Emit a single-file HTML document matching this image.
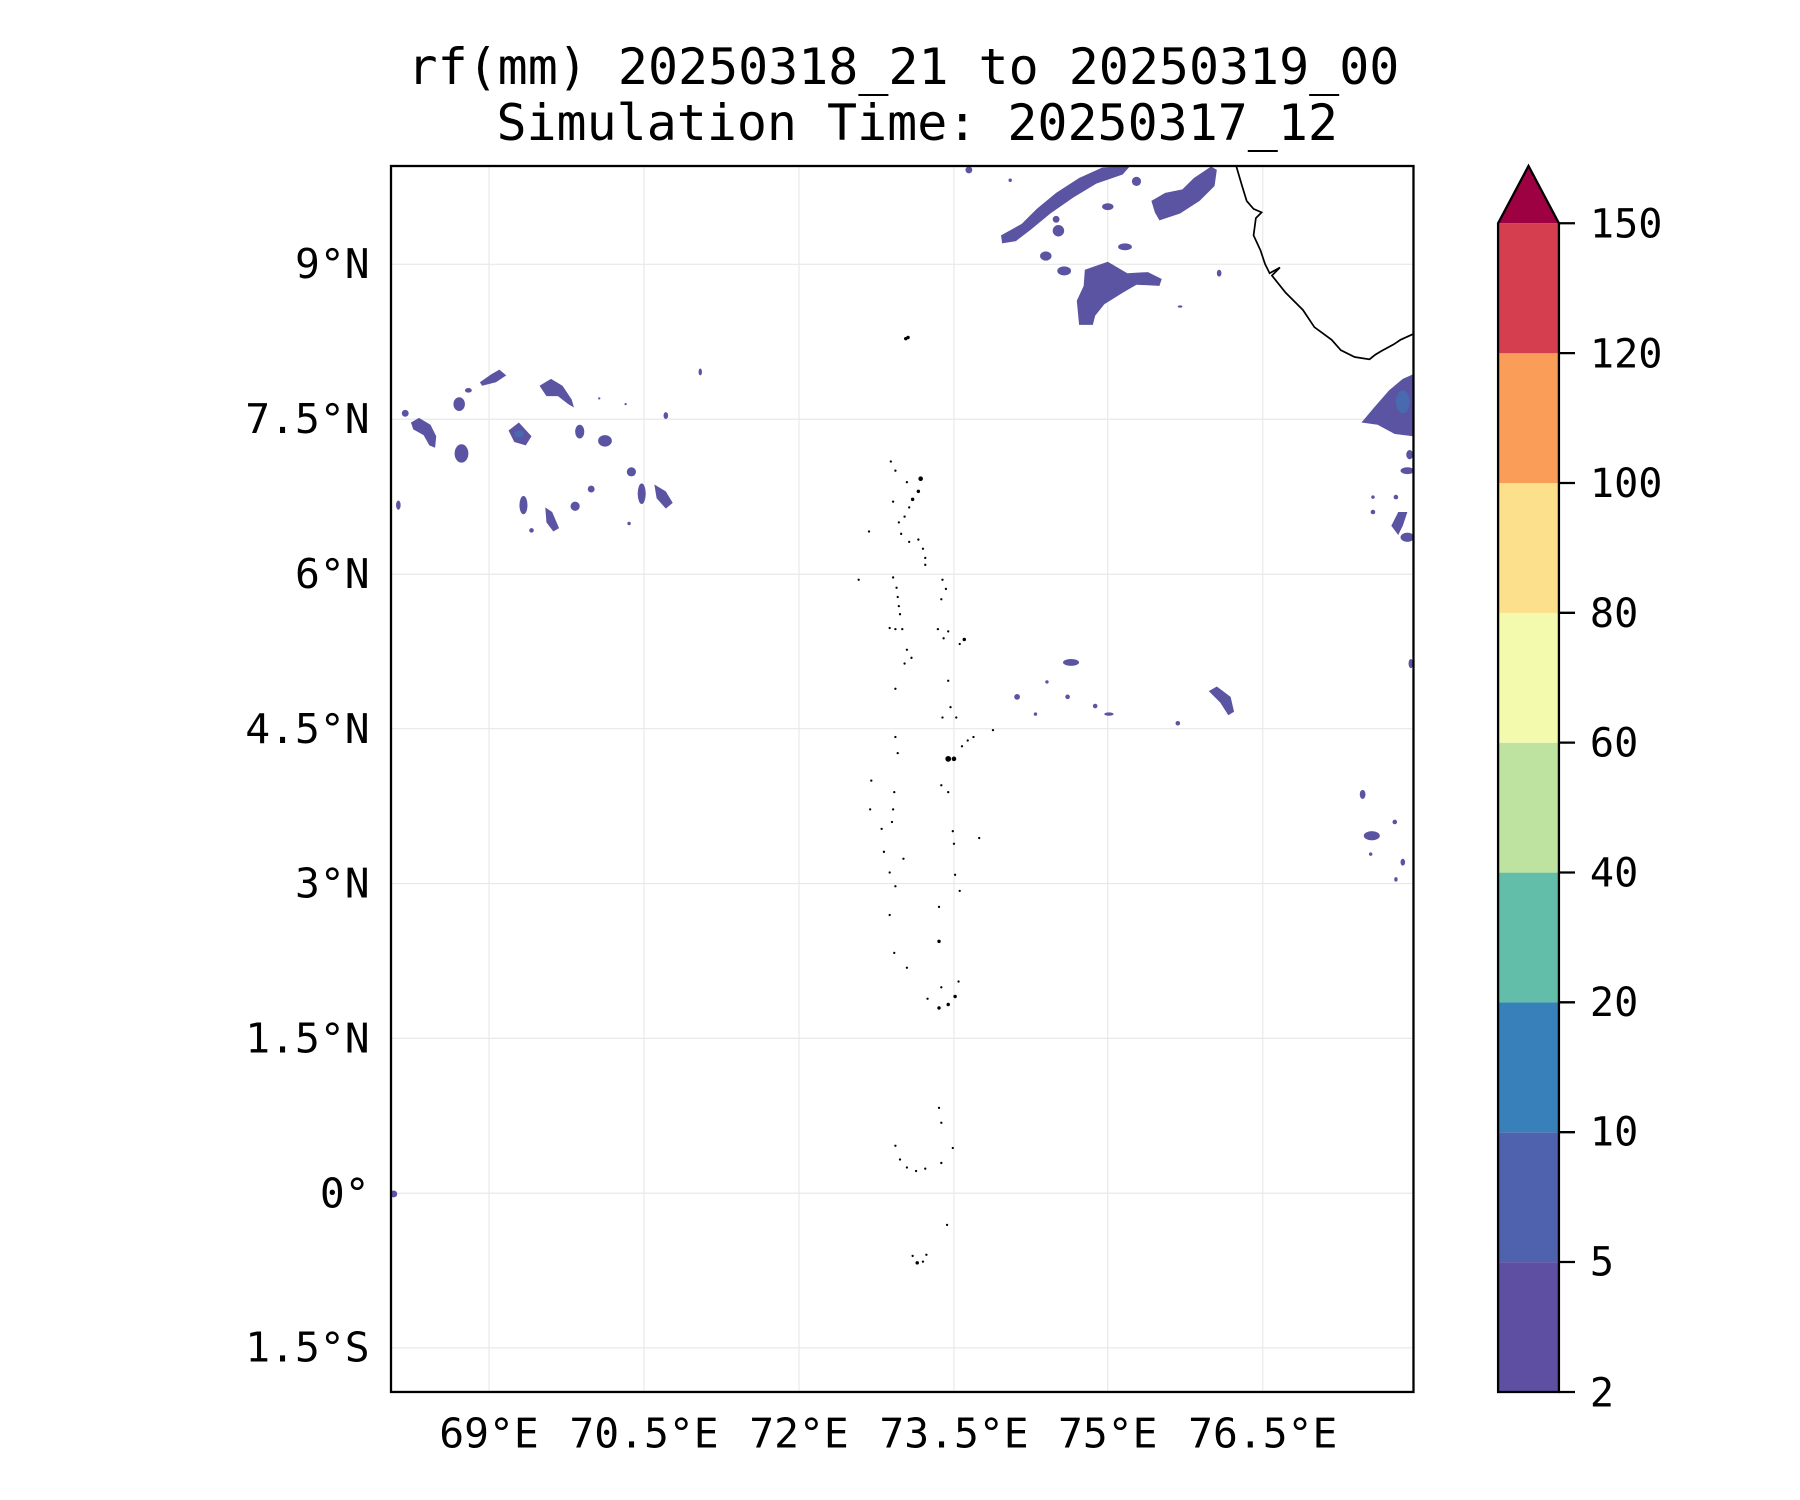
<!DOCTYPE html>
<html><head><meta charset="utf-8"><style>
html,body{margin:0;padding:0;background:#fff;}
svg{display:block}
text{font-family:"DejaVu Sans Mono","Liberation Mono",monospace;fill:#000}
</style></head><body>
<svg width="1800" height="1500" viewBox="0 0 1568 1306.6" preserveAspectRatio="none" xmlns="http://www.w3.org/2000/svg">
<rect width="1568" height="1306.6" fill="#fff"/>
<text x="787" y="73" font-size="43.5" text-anchor="middle">rf(mm) 20250318_21 to 20250319_00</text>
<text x="799" y="122" font-size="43.5" text-anchor="middle">Simulation Time: 20250317_12</text>
<defs><clipPath id="ax"><rect x="340.6" y="144.6" width="890.7" height="1067.9"/></clipPath></defs>
<g stroke="#e8e8e8" stroke-width="1">
<line x1="426" y1="144.6" x2="426" y2="1212.5"/><line x1="561" y1="144.6" x2="561" y2="1212.5"/>
<line x1="696" y1="144.6" x2="696" y2="1212.5"/><line x1="831" y1="144.6" x2="831" y2="1212.5"/>
<line x1="965" y1="144.6" x2="965" y2="1212.5"/><line x1="1100" y1="144.6" x2="1100" y2="1212.5"/>
<line x1="340.6" y1="230.2" x2="1231.3" y2="230.2"/><line x1="340.6" y1="365.2" x2="1231.3" y2="365.2"/>
<line x1="340.6" y1="500.2" x2="1231.3" y2="500.2"/><line x1="340.6" y1="634.7" x2="1231.3" y2="634.7"/>
<line x1="340.6" y1="769.6" x2="1231.3" y2="769.6"/><line x1="340.6" y1="904.5" x2="1231.3" y2="904.5"/>
<line x1="340.6" y1="1039.4" x2="1231.3" y2="1039.4"/><line x1="340.6" y1="1174" x2="1231.3" y2="1174"/>
</g>
<g clip-path="url(#ax)" fill="#5b54a3">
<polygon points="872,205 890,195 903,182 920,168 940,155 960,146 985,144 978,152 955,160 935,172 915,186 898,200 885,210 873,212"/>
<polygon points="1003,175 1015,168 1030,165 1040,155 1055,145 1060,148 1058,162 1045,175 1028,186 1010,192 1006,185"/>
<polygon points="945,235 965,228 982,238 1000,237 1012,243 1010,249 990,248 978,255 962,265 954,275 952,283 940,283 938,262 944,249"/>
<ellipse cx="922" cy="201" rx="5" ry="5"/><ellipse cx="911" cy="223" rx="5" ry="4"/><ellipse cx="965" cy="180" rx="5" ry="3"/>
<ellipse cx="980" cy="215" rx="6" ry="3"/><ellipse cx="990" cy="158" rx="4" ry="4"/><ellipse cx="1062" cy="238" rx="2" ry="3"/>
<ellipse cx="1028" cy="267" rx="2" ry="1"/><ellipse cx="920" cy="191" rx="3" ry="3"/><ellipse cx="927" cy="236" rx="6" ry="4"/>
<ellipse cx="844" cy="148" rx="3" ry="3"/><ellipse cx="880" cy="157" rx="1.5" ry="1.5"/>
<polygon points="358,368 365,364 375,370 380,380 379,390 374,388 369,379 360,374"/>
<ellipse cx="353" cy="360" rx="3" ry="3"/><ellipse cx="400" cy="352" rx="5" ry="6"/><ellipse cx="402" cy="395" rx="6" ry="8"/>
<polygon points="418,333 428,326 435,322 441,327 432,333 420,336"/><ellipse cx="408" cy="340" rx="3" ry="2"/>
<polygon points="443,375 452,368 463,380 458,388 448,385"/>
<polygon points="470,336 480,330 490,336 498,348 500,355 495,352 486,345 476,345"/>
<ellipse cx="505" cy="376" rx="4" ry="6"/><ellipse cx="527" cy="384" rx="6" ry="5"/><ellipse cx="550" cy="411" rx="4" ry="4"/>
<polygon points="570,422 580,428 586,438 580,443 572,434"/><ellipse cx="559" cy="430" rx="3.5" ry="9"/>
<ellipse cx="456" cy="440" rx="3.5" ry="8"/><polygon points="475,442 481,446 487,460 482,463 476,455"/>
<ellipse cx="501" cy="441" rx="4" ry="4"/><ellipse cx="515" cy="426" rx="3" ry="3"/><ellipse cx="347" cy="440" rx="2" ry="4"/>
<ellipse cx="463" cy="462" rx="2" ry="2"/><ellipse cx="548" cy="456" rx="1.5" ry="1.5"/><ellipse cx="610" cy="324" rx="1.5" ry="3"/>
<ellipse cx="580" cy="362" rx="2" ry="3"/><ellipse cx="522" cy="347" rx="1" ry="1"/><ellipse cx="545" cy="352" rx="1" ry="1"/>
<polygon points="1186,368 1197,355 1210,340 1222,330 1231,326 1231,380 1215,378 1200,370"/>
<ellipse cx="1226" cy="410" rx="6" ry="3"/><ellipse cx="1228" cy="396" rx="3" ry="4"/><ellipse cx="1196" cy="446" rx="2" ry="2"/>
<polygon points="1212,458 1218,446 1226,446 1222,458 1218,466"/><ellipse cx="1226" cy="468" rx="6" ry="4"/>
<ellipse cx="1216" cy="433" rx="2" ry="2"/><ellipse cx="1196" cy="433" rx="1.5" ry="1.5"/><ellipse cx="1229" cy="578" rx="2" ry="4"/>
<ellipse cx="933" cy="577" rx="7" ry="3"/><polygon points="1053,602 1060,598 1072,607 1075,620 1070,623 1063,612"/>
<ellipse cx="886" cy="607" rx="2.5" ry="2.5"/><ellipse cx="930" cy="607" rx="2" ry="2"/><ellipse cx="954" cy="615" rx="2" ry="2"/>
<ellipse cx="966" cy="622" rx="4" ry="1.5"/><ellipse cx="1026" cy="630" rx="2" ry="2"/><ellipse cx="912" cy="594" rx="1.5" ry="1.5"/><ellipse cx="902" cy="622" rx="1.5" ry="1.5"/>
<ellipse cx="1187" cy="692" rx="2.5" ry="4"/><ellipse cx="1195" cy="728" rx="7" ry="4"/><ellipse cx="1215" cy="716" rx="2" ry="2"/>
<ellipse cx="1222" cy="751" rx="2" ry="3"/><ellipse cx="1194" cy="744" rx="1.5" ry="1.5"/><ellipse cx="1216" cy="766" rx="1.5" ry="2"/>
<ellipse cx="343" cy="1040" rx="3" ry="3"/>
</g>
<g clip-path="url(#ax)" fill="#4a6ab0"><ellipse cx="1222" cy="350" rx="6" ry="10"/><ellipse cx="452" cy="378" rx="4" ry="3"/></g>
<path clip-path="url(#ax)" d="M1077,145 L1082,162 L1086,175 L1092,182 L1099,185 L1094,190 L1092,205 L1098,218 L1102,230 L1106,238 L1115,233 L1108,240 L1120,255 L1135,270 L1145,285 L1160,296 L1168,305 L1180,311 L1193,313 L1198,309 L1203,306 L1214,300 L1220,296 L1231,291" fill="none" stroke="#000" stroke-width="1.5"/>
<g fill="#000">
<circle cx="789" cy="295" r="1.5"/><circle cx="791" cy="294" r="1.5"/>
<circle cx="776" cy="402" r="1"/><circle cx="780" cy="410" r="1"/><circle cx="790" cy="420" r="1"/><circle cx="802" cy="417" r="2"/><circle cx="800" cy="428" r="1.5"/><circle cx="795" cy="435" r="1.5"/><circle cx="792" cy="442" r="1"/><circle cx="788" cy="450" r="1"/><circle cx="783" cy="455" r="1"/><circle cx="778" cy="437" r="1"/><circle cx="757" cy="463" r="1"/><circle cx="785" cy="465" r="1"/><circle cx="792" cy="472" r="1"/><circle cx="800" cy="470" r="1"/><circle cx="804" cy="478" r="1"/><circle cx="806" cy="486" r="1"/><circle cx="806" cy="492" r="1"/>
<circle cx="778" cy="503" r="1"/><circle cx="781" cy="512" r="1"/><circle cx="782" cy="520" r="1"/><circle cx="783" cy="528" r="1"/><circle cx="784" cy="535" r="1"/><circle cx="775" cy="547" r="1"/><circle cx="780" cy="548" r="1"/><circle cx="786" cy="548" r="1"/><circle cx="790" cy="566" r="1"/><circle cx="794" cy="573" r="1"/><circle cx="788" cy="578" r="1"/><circle cx="780" cy="600" r="1"/><circle cx="748" cy="505" r="1"/>
<circle cx="821" cy="505" r="1"/><circle cx="824" cy="513" r="1"/><circle cx="820" cy="522" r="1"/><circle cx="817" cy="548" r="1"/><circle cx="826" cy="550" r="1"/><circle cx="840" cy="557" r="1.5"/><circle cx="836" cy="561" r="1"/><circle cx="822" cy="556" r="1"/><circle cx="826" cy="593" r="1"/><circle cx="828" cy="616" r="1"/><circle cx="833" cy="625" r="1"/>
<circle cx="780" cy="642" r="1"/><circle cx="782" cy="656" r="1"/><circle cx="826" cy="661" r="2.5"/><circle cx="831" cy="661" r="2"/><circle cx="838" cy="650" r="1"/><circle cx="843" cy="645" r="1"/><circle cx="848" cy="642" r="1"/><circle cx="821" cy="625" r="1"/><circle cx="865" cy="636" r="1"/>
<circle cx="759" cy="680" r="1"/><circle cx="779" cy="690" r="1"/><circle cx="758" cy="705" r="1"/><circle cx="778" cy="705" r="1"/><circle cx="777" cy="716" r="1"/><circle cx="768" cy="722" r="1"/><circle cx="820" cy="684" r="1"/><circle cx="826" cy="690" r="1"/><circle cx="830" cy="724" r="1"/><circle cx="853" cy="730" r="1"/><circle cx="831" cy="735" r="1"/>
<circle cx="770" cy="742" r="1"/><circle cx="787" cy="748" r="1"/><circle cx="775" cy="760" r="1"/><circle cx="780" cy="772" r="1"/><circle cx="775" cy="797" r="1"/><circle cx="832" cy="762" r="1"/><circle cx="836" cy="776" r="1"/><circle cx="818" cy="790" r="1"/><circle cx="818" cy="820" r="1.5"/><circle cx="779" cy="830" r="1"/><circle cx="790" cy="843" r="1"/><circle cx="808" cy="870" r="1"/><circle cx="818" cy="878" r="1.5"/><circle cx="826" cy="875" r="1.5"/><circle cx="832" cy="868" r="1.5"/><circle cx="835" cy="855" r="1"/><circle cx="820" cy="860" r="1"/>
<circle cx="818" cy="965" r="1"/><circle cx="820" cy="978" r="1"/><circle cx="830" cy="1000" r="1"/><circle cx="780" cy="998" r="1"/><circle cx="784" cy="1010" r="1"/><circle cx="790" cy="1017" r="1"/><circle cx="798" cy="1020" r="1"/><circle cx="806" cy="1018" r="1"/><circle cx="820" cy="1013" r="1"/><circle cx="825" cy="1067" r="1"/>
<circle cx="795" cy="1094" r="1"/><circle cx="799" cy="1100" r="1.5"/><circle cx="804" cy="1099" r="1"/><circle cx="807" cy="1093" r="1"/>
</g>
<rect x="340.6" y="144.6" width="890.7" height="1067.9" fill="none" stroke="#000" stroke-width="2"/>
<g font-size="36" text-anchor="end">
<text x="322" y="242">9°N</text><text x="322" y="377">7.5°N</text><text x="322" y="512">6°N</text><text x="322" y="647">4.5°N</text>
<text x="322" y="782">3°N</text><text x="322" y="917">1.5°N</text><text x="322" y="1052">0°</text><text x="322" y="1186">1.5°S</text>
</g>
<g font-size="36" text-anchor="middle">
<text x="426" y="1261">69°E</text><text x="561" y="1261">70.5°E</text><text x="696" y="1261">72°E</text>
<text x="831" y="1261">73.5°E</text><text x="965" y="1261">75°E</text><text x="1100" y="1261">76.5°E</text>
</g>
<g>
<rect x="1305" y="1099.4" width="53" height="113.1" fill="#5e4fa2"/>
<rect x="1305" y="986.3" width="53" height="113.1" fill="#4e62ae"/>
<rect x="1305" y="873.2" width="53" height="113.1" fill="#3880b9"/>
<rect x="1305" y="760.1" width="53" height="113.1" fill="#63bea9"/>
<rect x="1305" y="647" width="53" height="113.1" fill="#bee3a0"/>
<rect x="1305" y="533.9" width="53" height="113.1" fill="#f3faad"/>
<rect x="1305" y="420.8" width="53" height="113.1" fill="#fde08b"/>
<rect x="1305" y="307.7" width="53" height="113.1" fill="#f99d59"/>
<rect x="1305" y="194.5" width="53" height="113.2" fill="#d53e4f"/>
<polygon points="1305,194.5 1331.5,144.6 1358,194.5" fill="#9e0142"/>
<polygon points="1305,1212.5 1305,194.5 1331.5,144.6 1358,194.5 1358,1212.5" fill="none" stroke="#000" stroke-width="2"/>
</g>
<g stroke="#000" stroke-width="2">
<line x1="1358" y1="194.5" x2="1372" y2="194.5"/><line x1="1358" y1="307.6" x2="1372" y2="307.6"/><line x1="1358" y1="420.7" x2="1372" y2="420.7"/>
<line x1="1358" y1="533.8" x2="1372" y2="533.8"/><line x1="1358" y1="646.9" x2="1372" y2="646.9"/><line x1="1358" y1="760" x2="1372" y2="760"/>
<line x1="1358" y1="873.1" x2="1372" y2="873.1"/><line x1="1358" y1="986.2" x2="1372" y2="986.2"/><line x1="1358" y1="1099.3" x2="1372" y2="1099.3"/>
<line x1="1358" y1="1212.5" x2="1372" y2="1212.5"/>
</g>
<g font-size="35">
<text x="1385" y="207">150</text><text x="1385" y="320">120</text><text x="1385" y="433">100</text><text x="1385" y="546">80</text>
<text x="1385" y="659">60</text><text x="1385" y="772">40</text><text x="1385" y="885">20</text><text x="1385" y="998">10</text>
<text x="1385" y="1111">5</text><text x="1385" y="1225">2</text>
</g>
</svg>
</body></html>
